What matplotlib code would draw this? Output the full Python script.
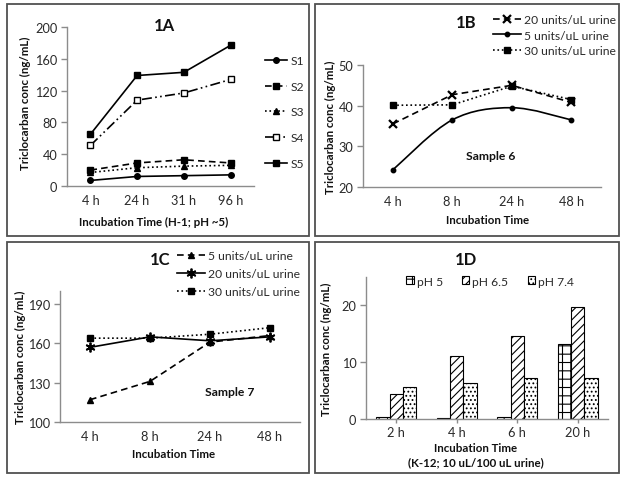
import numpy as np
import matplotlib
matplotlib.use("Agg")
import matplotlib.pyplot as plt
from matplotlib.patches import Rectangle, PathPatch
from matplotlib.path import Path
from matplotlib.lines import Line2D

plt.rcParams['font.family'] = ['Lato', 'DejaVu Sans']
plt.rcParams['hatch.linewidth'] = 0.8

# ---------------- data ----------------
cats_a = ["4 h", "24 h", "31 h", "96 h"]
s1 = [7, 12, 13, 14]
s2 = [20, 29, 33, 29]
s3 = [17, 23, 25, 26]
s4 = [51, 108, 117, 134]
s5 = [65, 139, 143, 177]

cats_b = ["4 h", "8 h", "24 h", "48 h"]
b_20 = [35.5, 42.7, 45.0, 40.8]
b_5 = [24.2, 36.5, 39.5, 36.5]
b_30 = [40.1, 40.2, 44.8, 41.5]

cats_c = ["4 h", "8 h", "24 h", "48 h"]
c_5 = [117, 131, 161, 166]
c_20 = [157, 165, 162, 165]
c_30 = [164, 164, 167, 172]

cats_d = ["2 h", "4 h", "6 h", "20 h"]
d_ph5 = [0.3, 0.2, 0.3, 13.2]
d_ph65 = [4.4, 11.1, 14.7, 19.7]
d_ph74 = [5.6, 6.4, 7.3, 7.2]

W, H = 626, 481
fig = plt.figure(figsize=(W / 100, H / 100), dpi=100)

TXT = '#111111'
TICK = '#2a2a2a'
AX = '#8c8c8c'
TFS = 9.2   # tick label size
LFS = 8.3   # axis label size
GFS = 8.7   # legend size


def fx(x):
    return x / W


def fy(y):
    return 1 - y / H


def add_ax(left, right, top, bottom, xtick_len=0):
    ax = fig.add_axes([fx(left), fy(bottom), fx(right - left), (bottom - top) / H])
    for s in ['top', 'right']:
        ax.spines[s].set_visible(False)
    for s in ['left', 'bottom']:
        ax.spines[s].set_color(AX)
        ax.spines[s].set_linewidth(1.0)
    ax.tick_params(colors=AX, labelcolor=TICK, labelsize=TFS, direction='out', width=1.0)
    ax.tick_params(axis='y', length=4, pad=3)
    ax.tick_params(axis='x', length=xtick_len, pad=6 if xtick_len == 0 else 3)
    ax.set_xlim(-0.5, 3.5)
    return ax


def ftext(x, y, s, **kw):
    kw.setdefault('color', TXT)
    fig.text(fx(x), fy(y), s, **kw)


def leg(ax, handles, x0, y0, spacing, hl, **kw):
    return ax.legend(handles=handles, loc='upper left', bbox_to_anchor=(fx(x0), fy(y0)),
                     bbox_transform=fig.transFigure, frameon=False, fontsize=GFS,
                     handlelength=hl, handletextpad=0.25, labelspacing=spacing,
                     borderpad=0, borderaxespad=0, labelcolor=TICK, **kw)


# panel borders
for (l, t, r, b) in [(7, 5, 309, 237), (315, 5, 619, 237), (7, 243, 309, 474), (315, 243, 619, 474)]:
    fig.add_artist(Rectangle((fx(l), fy(b)), fx(r - l), (b - t) / H, transform=fig.transFigure,
                             fill=False, edgecolor='#505050', linewidth=1.3))

x = np.arange(4)
lw = 1.2

# ---------------- 1A ----------------
axa = add_ax(67, 254, 28, 187)
axa.set_ylim(0, 200)
axa.set_yticks([0, 40, 80, 120, 160, 200])
axa.set_xticks(x)
axa.set_xticklabels(cats_a)
la = [
    axa.plot(x, s1, '-', color='k', lw=lw, marker='o', ms=4, label='S1')[0],
    axa.plot(x, s2, '--', color='k', lw=lw, marker='s', ms=4.5, label='S2', dashes=(4, 2.5))[0],
    axa.plot(x, s3, ':', color='k', lw=lw, marker='^', ms=4.5, label='S3')[0],
    axa.plot(x, s4, '-', color='k', lw=lw, marker='s', ms=5, mfc='white', label='S4',
             dashes=(6, 2, 1, 2, 1, 2))[0],
    axa.plot(x, s5, '-', color='k', lw=lw, marker='s', ms=4.5, label='S5')[0],
]
leg(axa, la, 265, 56, 1.22, 1.85)
ftext(164, 26, '1A', fontsize=12, fontweight='bold', ha='center', va='center')
ftext(25, 103, 'Triclocarban conc (ng/mL)', fontsize=LFS, fontweight='bold', rotation=90, ha='center', va='center')
ftext(154, 222, 'Incubation Time (H-1; pH ~5)', fontsize=LFS, fontweight='bold', ha='center', va='center')

# ---------------- 1B ----------------
axb = add_ax(363, 601, 66, 188)
axb.set_ylim(20, 50)
axb.set_yticks([20, 30, 40, 50])
axb.set_xticks(x)
axb.set_xticklabels(cats_b)
h20, = axb.plot(x, b_20, '--', color='k', lw=lw, marker='x', ms=6, mew=1.6, dashes=(4, 2.5),
                label='20 units/uL urine')
# smoothed line for 5 units (Bezier through the data points)
pts = np.column_stack([x, b_5]).astype(float)
verts = [tuple(pts[0])]
codes = [Path.MOVETO]
n = len(pts)
for i in range(n - 1):
    p0 = pts[i - 1] if i > 0 else pts[i]
    p1 = pts[i]
    p2 = pts[i + 1]
    p3 = pts[i + 2] if i + 2 < n else pts[i + 1]
    c1 = p1 + (p2 - p0) / 6
    c2 = p2 - (p3 - p1) / 6
    verts += [tuple(c1), tuple(c2), tuple(p2)]
    codes += [Path.CURVE4] * 3
axb.add_patch(PathPatch(Path(verts, codes), fill=False, edgecolor='k', lw=lw))
axb.plot(x, b_5, linestyle='none', color='k', marker='o', ms=3.2)
h5 = Line2D([], [], color='k', lw=lw, marker='o', ms=3.2, label='5 units/uL urine')
h30, = axb.plot(x, b_30, ':', color='k', lw=lw, marker='s', ms=4.5, label='30 units/uL urine')
leg(axb, [h20, h5, h30], 493, 15, 0.38, 2.3)
ftext(466, 23, '1B', fontsize=12, fontweight='bold', ha='center', va='center')
ftext(491, 156, 'Sample 6', fontsize=GFS, fontweight='bold', ha='center', va='center')
ftext(330, 127, 'Triclocarban conc (ng/mL)', fontsize=LFS, fontweight='bold', rotation=90, ha='center', va='center')
ftext(488, 220, 'Incubation Time', fontsize=LFS, fontweight='bold', ha='center', va='center')

# ---------------- 1C ----------------
axc = add_ax(60, 300, 292, 423)
axc.set_ylim(100, 200)
axc.set_yticks([100, 130, 160, 190])
axc.set_xticks(x)
axc.set_xticklabels(cats_c)
hc5, = axc.plot(x, c_5, '--', color='k', lw=lw, marker='^', ms=5, dashes=(4, 2.5), label='5 units/uL urine')
hc20, = axc.plot(x, c_20, '-', color='k', lw=lw, marker=(6, 2, 0), ms=7, mew=1.3, label='20 units/uL urine')
hc30, = axc.plot(x, c_30, ':', color='k', lw=lw, marker='s', ms=5, label='30 units/uL urine')
leg(axc, [hc5, hc20, hc30], 177, 251, 0.6, 2.3)
ftext(160, 260, '1C', fontsize=12, fontweight='bold', ha='center', va='center')
ftext(230, 392, 'Sample 7', fontsize=GFS, fontweight='bold', ha='center', va='center')
ftext(20, 357, 'Triclocarban conc (ng/mL)', fontsize=LFS, fontweight='bold', rotation=90, ha='center', va='center')
ftext(174, 454, 'Incubation Time', fontsize=LFS, fontweight='bold', ha='center', va='center')

# ---------------- 1D ----------------
axd = add_ax(366, 608, 278, 420, xtick_len=3)
axd.set_ylim(0, 25)
axd.set_yticks([0, 10, 20])
axd.set_xticks(x)
axd.set_xticklabels(cats_d)
axd.tick_params(axis='x', pad=2)
bw = 0.22
b1 = axd.bar(x - bw, d_ph5, bw, color='white', edgecolor='k', lw=0.8, hatch='++', label='pH 5')
b2 = axd.bar(x, d_ph65, bw, color='white', edgecolor='k', lw=0.8, hatch='////', label='pH 6.5')
b3 = axd.bar(x + bw, d_ph74, bw, color='white', edgecolor='k', lw=0.8, hatch='....', label='pH 7.4')
axd.legend(handles=[b1, b2, b3], loc='center', bbox_to_anchor=(fx(490), fy(282)),
           bbox_transform=fig.transFigure, frameon=False, fontsize=GFS, ncol=3, handlelength=0.6,
           handleheight=0.6, handletextpad=0.25, columnspacing=1.6, borderpad=0, labelcolor=TICK)
ftext(466, 260, '1D', fontsize=12, fontweight='bold', ha='center', va='center')
ftext(326, 349, 'Triclocarban conc (ng/mL)', fontsize=LFS, fontweight='bold', rotation=90, ha='center', va='center')
ftext(476, 448, 'Incubation Time', fontsize=LFS, fontweight='bold', ha='center', va='center')
ftext(476, 463, '(K-12; 10 uL/100 uL urine)', fontsize=LFS, fontweight='bold', ha='center', va='center')

fig.savefig('out.png', dpi=100)
